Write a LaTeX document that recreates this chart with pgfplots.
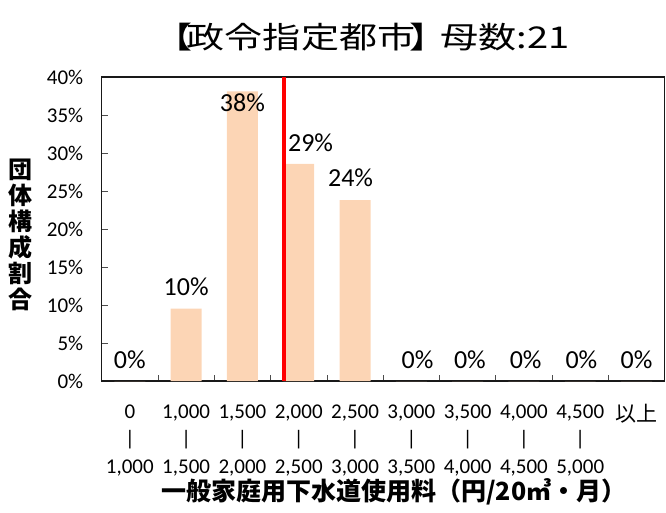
\documentclass[border=0pt]{standalone}
\usepackage{fontspec}
\setmainfont{Carlito}
\newfontfamily\jp{Noto Sans CJK JP}
\newfontfamily\jptitle{Noto Sans CJK JP}[FakeStretch=1.27]
\usepackage{pgfplots}
\usepackage{pgfplotstable}
\pgfplotsset{compat=1.18}
\definecolor{barfill}{RGB}{252,213,181}

% share of the 21 cities per fee band (%)
\pgfplotstableread{
x y
0 0
1 9.524
2 38.095
3 28.571
4 23.810
5 0
6 0
7 0
8 0
9 0
}\sharetable

% where Excel put the value labels
\pgfplotstableread{
x y v
0.00 2.8 0
1.00 12.4 10
2.00 36.6 38
3.21 31.4 29
3.92 26.7 24
5.11 2.8 0
6.04 2.8 0
7.03 2.8 0
8.02 2.8 0
9.00 2.8 0
}\labeltable

\begin{document}
\begin{tikzpicture}
\useasboundingbox (-101.7pt,-131pt) rectangle (564.3pt,381pt);
\begin{axis}[
    at={(0pt,0pt)}, anchor=south west,
    scale only axis, width=563pt, height=304pt,
    xmin=-0.5, xmax=9.5, ymin=0, ymax=40,
    axis line style={black!90, line width=1.4pt},
    tick align=inside, tick pos=left,
    major tick length=6pt,
    tick style={black!70, line width=0.8pt},
    /pgf/number format/assume math mode=true,
    xtick={0.5,1.5,...,8.5}, xticklabels={},
    extra x ticks={0,...,9},
    extra x tick labels={%
        {0\\|\\1,000},{1,000\\|\\1,500},{1,500\\|\\2,000},{2,000\\|\\2,500},%
        {2,500\\|\\3,000},{3,000\\|\\3,500},{3,500\\|\\4,000},{4,000\\|\\4,500},%
        {4,500\\|\\5,000},{\jp 以上}},
    extra x tick style={major tick length=0pt,
        tick label style={align=center, anchor=north, yshift=-20pt,
            font=\fontsize{21}{27.5}\selectfont}},
    ytick={0,5,...,40},
    yticklabel={\pgfmathprintnumber{\tick}\%},
    yticklabel style={font=\fontsize{21}{24}\selectfont, xshift=-15pt},
    ylabel={団\\体\\構\\成\\割\\合},
    ylabel style={rotate=-90, at={(-0.144,0.48)}, anchor=center, align=center,
        font=\jp\bfseries\fontsize{24}{26}\selectfont},
    xlabel={一般家庭用下水道使用料（円/20㎥・月）},
    xlabel style={at={(0.519,-0.364)}, anchor=center,
        font=\jp\bfseries\fontsize{25}{30}\selectfont},
    title={【\kern-0.18em政令指定都市\kern-0.18em】\kern-0.25em母数:21},
    title style={at={(0.462,1.11)}, anchor=center,
        font=\jptitle\fontsize{30}{36}\selectfont},
]
\addplot[ybar, bar width=0.55, fill=barfill, draw=none] table[x=x, y=y] {\sharetable};
\addplot[red, line width=4pt] coordinates {(2.74,0) (2.74,40)};
\addplot[draw=none, mark=none, point meta=explicit,
    nodes near coords={\pgfmathprintnumber{\pgfplotspointmeta}\%},
    every node near coord/.append style={anchor=center, font=\fontsize{26}{30}\selectfont}]
    table[x=x, y=y, meta=v] {\labeltable};
\end{axis}
\end{tikzpicture}
\end{document}
